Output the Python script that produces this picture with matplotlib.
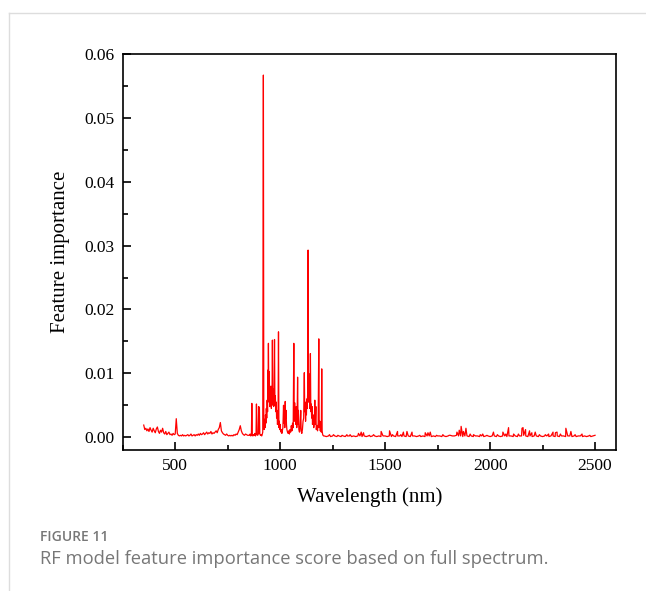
import numpy as np
import matplotlib
matplotlib.use('Agg')
import matplotlib.pyplot as plt
from matplotlib.ticker import MultipleLocator
from matplotlib.lines import Line2D

# feature importance, in units of 1e-4
# 350-845 nm, 5 nm step
imp_a = [19, 12, 14, 10, 13, 9, 15, 11, 8, 14, 10, 7, 13, 16, 9, 6, 11, 8, 14, 7,
         5, 9, 4, 6, 8, 4, 5, 3, 6, 4, 5, 29, 6, 3, 2, 3, 2, 4, 2, 3,
         2, 3, 4, 2, 3, 5, 2, 3, 4, 2, 4, 3, 5, 3, 6, 4, 5, 7, 4, 6,
         8, 5, 7, 6, 9, 5, 7, 6, 8, 10, 7, 12, 15, 23, 10, 7, 5, 4, 3, 5,
         3, 2, 3, 2, 3, 2, 4, 3, 5, 4, 8, 12, 18, 10, 6, 4, 3, 5, 4, 3]
wl_a0, wl_a_step = 350, 5

# 850-1210 nm, the important band
band_b = [(854, 3), (857, 5), (860, 2), (863, 4), (865, 53), (867, 3), (870, 2), (873, 4),
          (876, 3), (879, 6), (882, 2), (885, 4), (887, 52), (889, 5), (892, 3), (895, 4),
          (897, 48), (899, 6), (901, 47), (903, 5), (906, 3), (909, 4), (912, 2), (915, 5),
          (917, 8), (920, 567), (922, 20), (924, 12), (926, 28), (928, 15), (930, 35), (932, 22),
          (934, 45), (936, 30), (938, 58), (940, 40), (941, 105), (942, 55), (944, 147), (946, 60),
          (948, 103), (950, 48), (952, 70), (954, 52), (956, 80), (958, 45), (960, 62), (961, 50),
          (963, 152), (965, 55), (967, 75), (969, 48), (971, 60), (973, 153), (975, 50), (977, 65),
          (979, 40), (981, 55), (983, 30), (985, 42), (987, 20), (990, 28), (992, 165), (994, 15),
          (996, 25), (998, 12), (1000, 20), (1002, 10), (1004, 8), (1006, 12), (1008, 6), (1010, 10),
          (1013, 15), (1016, 50), (1018, 22), (1020, 35), (1022, 15), (1024, 56), (1026, 30), (1028, 42),
          (1030, 20), (1032, 12), (1035, 8), (1038, 6), (1041, 10), (1044, 5), (1047, 12), (1050, 8),
          (1053, 18), (1056, 10), (1059, 22), (1062, 15), (1065, 147), (1067, 25), (1069, 54), (1071, 30),
          (1073, 40), (1075, 20), (1077, 48), (1079, 15), (1081, 35), (1083, 94), (1085, 20), (1087, 42),
          (1089, 12), (1092, 8), (1095, 18), (1098, 42), (1100, 10), (1103, 6), (1106, 12), (1109, 25),
          (1112, 30), (1115, 101), (1117, 40), (1119, 55), (1121, 25), (1123, 52), (1125, 35), (1127, 60),
          (1129, 45), (1131, 70), (1133, 293), (1135, 55), (1137, 80), (1139, 99), (1141, 45), (1143, 60),
          (1144, 131), (1146, 40), (1148, 52), (1150, 30), (1152, 48), (1154, 20), (1157, 35), (1160, 15),
          (1163, 25), (1165, 58), (1167, 20), (1170, 48), (1172, 12), (1175, 18), (1178, 10), (1181, 22),
          (1184, 154), (1186, 15), (1189, 25), (1191, 10), (1194, 18), (1196, 8), (1198, 107), (1200, 10),
          (1202, 5), (1204, 3), (1207, 2)]

# 1210-2500 nm: flat floor at 10 nm step, plus narrow spikes
floor_c = [2, 1, 2, 1, 2, 2, 1, 2, 1, 2,
           1, 2, 2, 1, 2, 1, 2, 2, 1, 2,
           1, 2, 1, 2, 2, 1, 2, 1, 2, 2,
           1, 2, 1, 2, 1, 2, 2, 1, 2, 1,
           2, 1, 2, 2, 1, 2, 1, 2, 1, 2,
           2, 1, 2, 1, 2, 2, 1, 2, 1, 2,
           3, 2, 2, 3, 2, 2, 1, 2, 2, 1,
           2, 1, 2, 2, 1, 2, 1, 2, 2, 1,
           2, 2, 1, 2, 1, 2, 2, 1, 2, 2,
           1, 2, 1, 2, 2, 3, 2, 1, 2, 1,
           2, 2, 1, 2, 1, 2, 2, 1, 2, 2,
           1, 2, 1, 2, 2, 1, 2, 2, 1, 2,
           1, 2, 2, 1, 2, 1, 2, 1, 2, 3]
wl_c0, wl_c_step = 1210, 10
spikes_c = [(1235, 4), (1254, 4), (1275, 3), (1295, 3), (1318, 4), (1333, 4), (1373, 6), (1386, 8),
            (1397, 7), (1425, 3), (1445, 4), (1481, 9), (1521, 10), (1535, 4), (1559, 9), (1575, 4),
            (1587, 8), (1604, 9), (1628, 8), (1665, 3), (1691, 7), (1704, 7), (1715, 8), (1745, 3),
            (1775, 4), (1805, 3), (1842, 8), (1853, 11), (1862, 17), (1873, 9), (1885, 14), (1905, 5),
            (1921, 4), (1953, 4), (1965, 5), (1985, 3), (2016, 8), (2035, 4), (2061, 8), (2075, 5),
            (2088, 15), (2112, 5), (2135, 5), (2152, 14), (2157, 15), (2169, 12), (2188, 10), (2199, 7),
            (2215, 8), (2235, 4), (2263, 4), (2279, 5), (2300, 8), (2311, 7), (2319, 8), (2335, 5),
            (2361, 14), (2385, 9), (2405, 4), (2438, 5), (2475, 3)]

wl_c = np.concatenate([wl_c0 + wl_c_step * np.arange(len(floor_c)), [p[0] for p in spikes_c]])
imp_c = np.concatenate([floor_c, [p[1] for p in spikes_c]])
order = np.argsort(wl_c)

wl = np.concatenate([wl_a0 + wl_a_step * np.arange(len(imp_a)),
                     np.array([p[0] for p in band_b]),
                     wl_c[order]])
imp = np.concatenate([imp_a, [p[1] for p in band_b], imp_c[order]]) * 1e-4

plt.rcParams['font.family'] = ['Liberation Serif', 'DejaVu Serif']

fig = plt.figure(figsize=(6.46, 5.91), dpi=100)
ax = fig.add_axes([0.190, 0.2386, 0.7636, 0.670])
ax.plot(wl, imp, color='#ff0000', lw=0.9)

ax.set_xlim(250, 2600)
ax.set_ylim(-0.002, 0.06)
ax.xaxis.set_minor_locator(MultipleLocator(250))
ax.set_xticks([500, 1000, 1500, 2000, 2500])
ax.yaxis.set_minor_locator(MultipleLocator(0.005))
ax.set_yticks([0, 0.01, 0.02, 0.03, 0.04, 0.05, 0.06])
ax.set_yticklabels(['0.00', '0.01', '0.02', '0.03', '0.04', '0.05', '0.06'])
ax.tick_params(which='major', direction='in', length=6, width=1.2, labelsize=12.5, pad=6)
ax.tick_params(which='minor', direction='in', length=3.5, width=1.2)
ax.tick_params(top=False, right=False, which='both')
for s in ax.spines.values():
    s.set_linewidth(1.2)
ax.set_xlabel('Wavelength (nm)', fontsize=15, labelpad=9)
ax.set_ylabel('Feature importance', fontsize=15, labelpad=10)

# card border and caption
fig.add_artist(Line2D([9/646, 1], [1 - 13/591, 1 - 13/591], color='#dddddd', lw=1))
fig.add_artist(Line2D([9/646, 9/646], [0, 1 - 13/591], color='#dddddd', lw=1))
fig.text(40/646, 1 - 537/591, 'FIGURE 11', fontsize=10, fontweight='semibold', color='#777777',
         family=['Open Sans', 'DejaVu Sans'], va='center')
fig.text(40/646, 1 - 559/591, 'RF model feature importance score based on full spectrum.',
         fontsize=13.2, color='#777777', family=['Open Sans', 'DejaVu Sans'], va='center')

fig.savefig('out.png', dpi=100)
